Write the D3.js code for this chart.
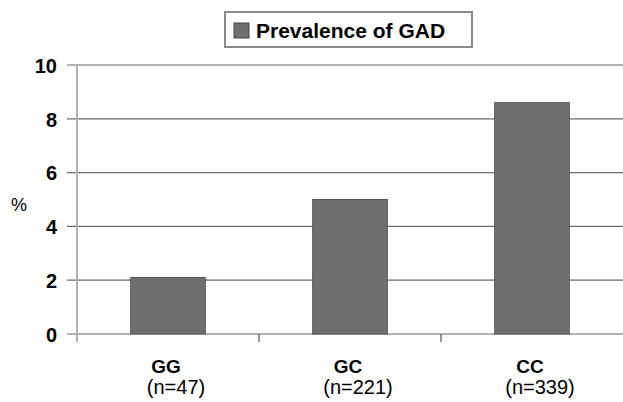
<!DOCTYPE html>
<html>
<head>
<meta charset="utf-8">
<script src="https://cdn.jsdelivr.net/npm/d3@7"></script>
<style>
  body { margin: 0; background: #fff; }
  text { font-family: "Liberation Sans", Arial, sans-serif; }
</style>
</head>
<body>
<svg id="chart"></svg>
<script>
// chart data
const categories = ['GG', 'GC', 'CC'];
const sampleSizes = ['(n=47)', '(n=221)', '(n=339)'];
const prevalence = [2.1, 5.0, 8.6];
const yTicks = [0, 2, 4, 6, 8, 10];
const seriesName = 'Prevalence of GAD';

const config = {
  containerWidth: 623,
  containerHeight: 402,
  margin: {top: 65, right: 0, bottom: 68, left: 77}
};

const width = config.containerWidth - config.margin.left - config.margin.right;
const height = config.containerHeight - config.margin.top - config.margin.bottom;

const svg = d3.select('#chart')
    .attr('width', config.containerWidth)
    .attr('height', config.containerHeight);

const chart = svg.append('g')
    .attr('transform', `translate(${config.margin.left},${config.margin.top})`);

// scales
const yScale = d3.scaleLinear().domain([0, 10]).range([height, 0]);

// outer bands mark category boundaries, bars sit inside
const xOuter = d3.scaleBand().domain(categories).range([0, width]).padding(0);
const xScale = d3.scaleBand().domain(categories).range([0, width])
    .paddingInner(0.59).paddingOuter(0.295);

// gridlines
chart.append('g')
  .selectAll('line')
    .data(yTicks)
  .join('line')
    .attr('x1', -10)
    .attr('x2', width)
    .attr('y1', d => yScale(d))
    .attr('y2', d => yScale(d))
    .attr('stroke', '#6a6a6a')
    .attr('stroke-width', 1.2);

// y axis (labels only, lines drawn separately)
const yAxis = d3.axisLeft(yScale).tickValues(yTicks).tickSize(0).tickPadding(20);
const yAxisG = chart.append('g').call(yAxis);
yAxisG.select('.domain').remove();
yAxisG.selectAll('text')
    .attr('font-size', 20)
    .attr('font-weight', 'bold')
    .attr('fill', '#000')
    .attr('dy', '0.36em');

// y axis line
chart.append('line')
    .attr('x1', 0).attr('x2', 0)
    .attr('y1', yScale(10)).attr('y2', yScale(0) + 8)
    .attr('stroke', '#b0b0b0')
    .attr('stroke-width', 2);

// x ticks at category boundaries
chart.append('g')
  .selectAll('line')
    .data(categories.slice(1))
  .join('line')
    .attr('x1', d => xOuter(d))
    .attr('x2', d => xOuter(d))
    .attr('y1', height)
    .attr('y2', height + 8)
    .attr('stroke', '#555')
    .attr('stroke-width', 1.2);

// bars
chart.append('g')
  .selectAll('rect')
    .data(categories)
  .join('rect')
    .attr('x', d => xScale(d))
    .attr('y', (d, i) => yScale(prevalence[i]))
    .attr('width', xScale.bandwidth())
    .attr('height', (d, i) => yScale(0) - yScale(prevalence[i]))
    .attr('fill', '#6f6f6f')
    .attr('stroke', '#555')
    .attr('stroke-width', 1);

// x labels
const xLabels = chart.append('g');
xLabels.selectAll('text.cat')
    .data(categories)
  .join('text')
    .attr('class', 'cat')
    .attr('x', d => xScale(d) + xScale.bandwidth() / 2 - 2)
    .attr('y', height + 39)
    .attr('text-anchor', 'middle')
    .attr('font-size', 19)
    .attr('font-weight', 'bold')
    .text(d => d);

xLabels.selectAll('text.n')
    .data(categories)
  .join('text')
    .attr('class', 'n')
    .attr('x', d => xScale(d) + xScale.bandwidth() / 2 + 8)
    .attr('y', height + 60)
    .attr('text-anchor', 'middle')
    .attr('font-size', 20)
    .text((d, i) => sampleSizes[i]);

// y title
svg.append('text')
    .attr('x', 11)
    .attr('y', 211)
    .attr('font-size', 18)
    .text('%');

// legend
const legend = svg.append('g');
legend.append('rect')
    .attr('x', 225).attr('y', 12)
    .attr('width', 247).attr('height', 35)
    .attr('fill', '#fff')
    .attr('stroke', '#8a8a8a')
    .attr('stroke-width', 2);
legend.append('rect')
    .attr('x', 234).attr('y', 23)
    .attr('width', 15).attr('height', 15)
    .attr('fill', '#6f6f6f')
    .attr('stroke', '#444')
    .attr('stroke-width', 1);
legend.append('text')
    .attr('x', 256).attr('y', 38)
    .attr('font-size', 21)
    .attr('font-weight', 'bold')
    .text(seriesName);
</script>
</body>
</html>
